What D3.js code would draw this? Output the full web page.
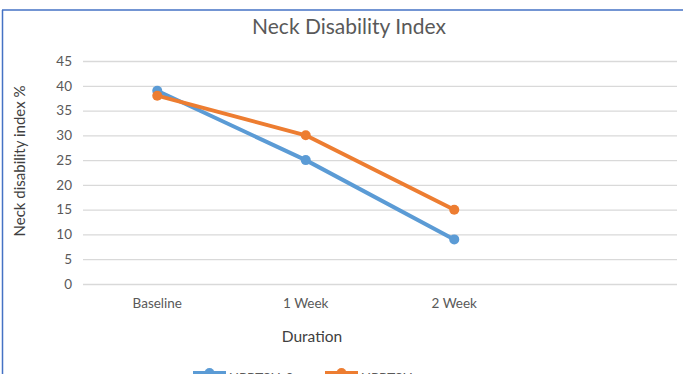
<!DOCTYPE html>
<html>
<head>
<meta charset="utf-8">
<script src="https://cdn.jsdelivr.net/npm/d3@7"></script>
<style>
  html, body { margin: 0; padding: 0; background: #fff; }
  svg { display: block; }
  text { font-family: Lato, "Open Sans", "Liberation Sans", sans-serif; }
</style>
</head>
<body>
<svg id="chart" width="683" height="374"></svg>
<script>
// Category axis (the fourth slot is an empty category, leaving room on the right)
const categories = ["Baseline", "1 Week", "2 Week", ""];
const seriesNames = ["UPPTSH-9", "UPPTSH"];
const seriesBlue = [39, 25, 9];
const seriesOrange = [38, 30, 15];
const yTicks = [0, 5, 10, 15, 20, 25, 30, 35, 40, 45];
const colors = ["#5B9BD5", "#ED7D31"];

const svg = d3.select("#chart");
const W = 683, H = 374;
const plot = { left: 83, right: 677, top: 61, bottom: 284 };

// Outer frame: blue rule along the top and left edge
svg.append("line").attr("x1", 2).attr("x2", W).attr("y1", 10).attr("y2", 10)
  .attr("stroke", "#4472C4").attr("stroke-width", 1.5);
svg.append("line").attr("x1", 2.5).attr("x2", 2.5).attr("y1", 10).attr("y2", H)
  .attr("stroke", "#4472C4").attr("stroke-width", 1.5);

const x = d3.scaleBand().domain(categories).range([plot.left, plot.right]);
const y = d3.scaleLinear().domain([0, 45]).range([plot.bottom, plot.top]);

// Horizontal gridlines and y tick labels
const yAxis = d3.axisLeft(y).tickValues(yTicks).tickSize(-(plot.right - plot.left)).tickPadding(11);
const gy = svg.append("g").attr("transform", `translate(${plot.left},0)`).call(yAxis);
gy.select(".domain").remove();
gy.selectAll(".tick line").attr("stroke", "#d9d9d9").attr("stroke-width", 1.3);
gy.selectAll(".tick text").attr("fill", "#595959").style("font-size", "13.5px")
  .style("font-family", "Lato, 'Open Sans', sans-serif");

// Category labels
const xAxis = d3.axisBottom(x).tickSize(0).tickPadding(14);
const gx = svg.append("g").attr("transform", `translate(0,${plot.bottom})`).call(xAxis);
gx.select(".domain").remove();
gx.selectAll(".tick text").attr("fill", "#595959").style("font-size", "13.5px")
  .style("font-family", "Lato, 'Open Sans', sans-serif");

// Title and axis titles
svg.append("text").attr("x", 349).attr("y", 34).attr("text-anchor", "middle")
  .attr("fill", "#595959").style("font-size", "21px").text("Neck Disability Index");
svg.append("text").attr("x", 312).attr("y", 342).attr("text-anchor", "middle")
  .attr("fill", "#404040").style("font-size", "15.5px").text("Duration");
svg.append("text").attr("transform", "translate(25,161) rotate(-90)").attr("text-anchor", "middle")
  .attr("fill", "#404040").style("font-size", "15px").text("Neck disability index %");

// Series lines with circular markers
const cx = d => x(categories[d.i]) + x.bandwidth() / 2;
const line = d3.line().x(cx).y(d => y(d.v));
[seriesBlue, seriesOrange].forEach((vals, s) => {
  const pts = vals.map((v, i) => ({ v, i }));
  svg.append("path").datum(pts).attr("d", line).attr("fill", "none")
    .attr("stroke", colors[s]).attr("stroke-width", 4).attr("stroke-linejoin", "round");
  svg.selectAll(null).data(pts).enter().append("circle")
    .attr("cx", cx).attr("cy", d => y(d.v)).attr("r", 5).attr("fill", colors[s]);
});

// Legend (runs off the bottom edge)
const legendX = [193, 325];
seriesNames.forEach((name, s) => {
  const g = svg.append("g").attr("transform", `translate(${legendX[s]},373)`);
  g.append("line").attr("x1", 0).attr("x2", 33).attr("stroke", colors[s]).attr("stroke-width", 4);
  g.append("circle").attr("cx", 16.5).attr("r", 5).attr("fill", colors[s]);
  g.append("text").attr("x", 36).attr("y", 10).attr("fill", "#595959")
    .style("font-size", "13.5px").text(name);
});
</script>
</body>
</html>
